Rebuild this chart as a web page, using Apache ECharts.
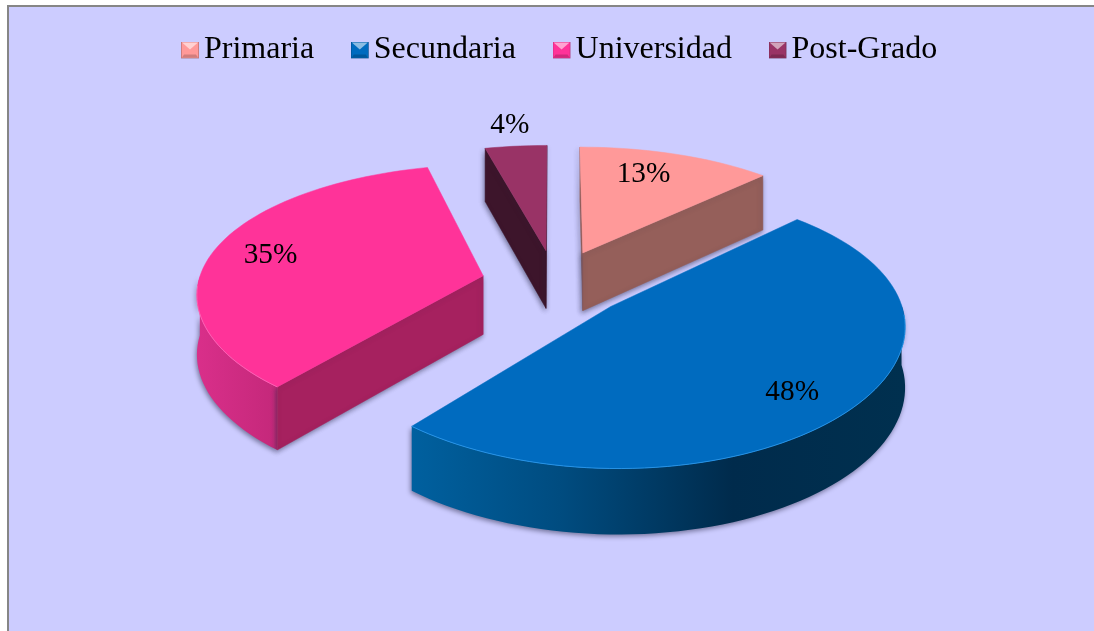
<!DOCTYPE html>
<html>
<head>
<meta charset="utf-8">
<style>html,body{margin:0;padding:0;background:#fff}#c{width:1094px;height:631px}</style>
<script src="https://cdn.jsdelivr.net/npm/echarts@6/dist/echarts.min.js"></script>
</head>
<body>
<div id="c"></div>
<script>
const categories = ['Primaria', 'Secundaria', 'Universidad', 'Post-Grado'];
const values = [12.6, 48.4, 35, 4];
const topColors = ['#FF9999', '#006BBF', '#FF3399', '#993366'];
const radialWallColors = ['#955F5A', '#00406F', '#A6215F', '#3D152B'];
const arcWallStops = [
  [[0, '#955F5A'], [1, '#955F5A']],
  [[0, '#00609F'], [0.3, '#004C80'], [0.65, '#002B4C'], [1, '#00304F']],
  [[0, '#D92F8A'], [1, '#C4287A']],
  [[0, '#5A1F3F'], [1, '#5A1F3F']]
];
const edgeHighlights = ['#FFB5B5', '#2A9BEF', '#FF66B8', '#B04C80'];
const labelOffsets = [[0.246, -0.72], [0.566, 0.57], [-0.771, -0.166], [-0.154, -1.228]];
const drawOrder = [1, 3, 2, 4];

// Projection of the tilted pie
const CX = 555, CY = 283, RX = 285, RY = 130, PERSP = 0.15, PERSP_X = 0.12, PERSP_D = 0.09, EXPLODE = 0.26, DEPTH = 59;
const total = values.reduce((a, b) => a + b, 0);
const toRad = p => p / total * Math.PI * 2;
function project(u, v, down) {
  return [CX + RX * u / (1 - PERSP_X * v),
    CY + RY * v / (1 - PERSP * v) + (down ? DEPTH / (1 - PERSP_D * v) : 0)];
}
function signedArea(pts) {
  let s = 0;
  pts.forEach((p, i) => { const q = pts[(i + 1) % pts.length]; s += p[0] * q[1] - q[0] * p[1]; });
  return s / 2;
}
function sliceGroup(idx) {
  const start = toRad(values.slice(0, idx).reduce((a, b) => a + b, 0));
  const end = start + toRad(values[idx]);
  const mid = (start + end) / 2;
  const cu = Math.sin(mid) * EXPLODE, cv = -Math.cos(mid) * EXPLODE;
  const rim = [];
  const steps = Math.max(4, Math.round((end - start) / (Math.PI / 90)));
  for (let i = 0; i <= steps; i++) {
    const t = start + (end - start) * i / steps;
    rim.push([cu + Math.sin(t), cv - Math.cos(t), t]);
  }
  const rimTop = rim.map(r => project(r[0], r[1], false));
  const rimBot = rim.map(r => project(r[0], r[1], true));
  const apexTop = project(cu, cv, false), apexBot = project(cu, cv, true);
  const shadow = { shadowColor: 'rgba(40,40,70,0.55)', shadowBlur: 5, shadowOffsetX: -1, shadowOffsetY: 2 };
  const children = [];
  // outer wall: only the stretch of rim that faces the viewer
  const frontIdx = rim.map((r, i) => i).filter(i => Math.cos(rim[i][2]) < 0.02);
  if (frontIdx.length > 1) {
    const ft = frontIdx.map(i => rimTop[i]), fb = frontIdx.map(i => rimBot[i]);
    const xs = fb.map(p => p[0]);
    const x0 = Math.min.apply(null, xs), x1 = Math.max.apply(null, xs);
    children.push({ type: 'polygon',
      shape: { points: ft.concat(fb.slice().reverse()) },
      style: Object.assign({
        fill: { type: 'linear', x: x0, y: 0, x2: x1, y2: 0, global: true,
          colorStops: arcWallStops[idx].map(s => ({ offset: s[0], color: s[1] })) }
      }, shadow) });
  }
  // radial walls that face the viewer
  const wall = (a, b, c, d) => {
    const pts = [a, b, c, d];
    if (signedArea(pts) > 0) return;
    children.push({ type: 'polygon', shape: { points: pts },
      style: Object.assign({ fill: radialWallColors[idx], stroke: radialWallColors[idx], lineWidth: 0.5 }, shadow) });
  };
  wall(apexTop, rimTop[0], rimBot[0], apexBot);
  wall(rimTop[steps], apexTop, apexBot, rimBot[steps]);
  // top face
  children.push({ type: 'polygon', shape: { points: [apexTop].concat(rimTop) },
    style: { fill: topColors[idx], stroke: topColors[idx], lineWidth: 0.5 } });
  // light rim on the front edge of the top face
  const front = rimTop.filter((p, i) => Math.cos(rim[i][2]) < -0.05);
  if (front.length > 1) {
    children.push({ type: 'polyline', shape: { points: front },
      style: { fill: null, stroke: edgeHighlights[idx], lineWidth: 1, opacity: 0.8 } });
  }
  // label
  const off = labelOffsets[idx];
  const lp = project(cu + off[0], cv + off[1], false);
  children.push({ type: 'text', x: lp[0], y: lp[1], z2: 10,
    style: { text: Math.round(values[idx] / total * 100) + '%', fill: '#000',
      font: '29.3px "Liberation Serif", "Times New Roman", serif', align: 'center', verticalAlign: 'middle' } });
  return { type: 'group', children };
}
function bevelIcon(color) {
  const svg = `<svg xmlns="http://www.w3.org/2000/svg" width="18" height="17" viewBox="0 0 18 17">` +
    `<rect width="18" height="17" fill="${color}"/>` +
    `<rect width="18" height="17" fill="none" stroke="#000" stroke-opacity="0.25" stroke-width="1.5"/>` +
    `<polygon points="1,1 17,1 9,8" fill="#fff" fill-opacity="0.55"/>` +
    `<polygon points="1,16 17,16 15,13 3,13" fill="#000" fill-opacity="0.18"/></svg>`;
  return 'image://data:image/svg+xml;charset=utf-8,' + encodeURIComponent(svg);
}
const chart = echarts.init(document.getElementById('c'), null, { renderer: 'canvas' });
chart.setOption({
  backgroundColor: '#FFFFFF',
  animation: false,
  graphic: [{ type: 'rect', z: -10, silent: true,
    shape: { x: 8, y: 6, width: 1100, height: 640 },
    style: { fill: '#CCCCFF', stroke: '#868686', lineWidth: 2 } }],
  legend: {
    left: 176, top: 29, itemWidth: 18, itemHeight: 17, itemGap: 36.6, selectedMode: false,
    textStyle: { fontFamily: '"Liberation Serif", "Times New Roman", serif', fontSize: 32, color: '#000' },
    data: categories.map((name, i) => ({ name, icon: bevelIcon(topColors[i]) }))
  },
  series: categories.map((name, i) => ({
    type: 'custom', name, coordinateSystem: 'none', z: 2 + drawOrder[i],
    itemStyle: { color: topColors[i] },
    data: [values[i]],
    renderItem: () => sliceGroup(i)
  }))
});
</script>
</body>
</html>
